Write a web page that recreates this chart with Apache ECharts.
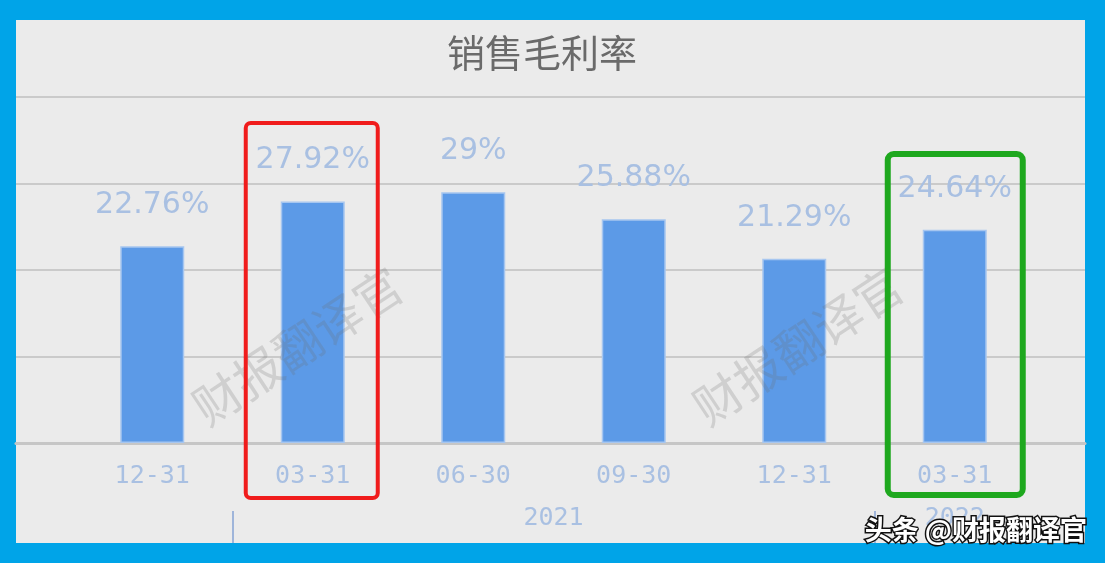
<!DOCTYPE html>
<html>
<head>
<meta charset="utf-8">
<script src="https://cdn.jsdelivr.net/npm/echarts@6/dist/echarts.min.js"></script>
<style>
html,body{margin:0;padding:0;background:#00a4e8;}
#c{width:1105px;height:563px;}
</style>
</head>
<body>
<div id="c"></div>
<script>
const titleText = '销售毛利率';
const categories = ['12-31', '03-31', '06-30', '09-30', '12-31', '03-31'];
const margins = [22.76, 27.92, 29, 25.88, 21.29, 24.64];
const yearGroups = [
  { name: '2021', from: 1, to: 5 },
  { name: '2022', from: 5, to: 6 }
];
const watermark = '财报翻译官';
const credit = '头条 @财报翻译官';

const labelColor = '#a9c0e2';
const chart = echarts.init(document.getElementById('c'), null, { renderer: 'canvas' });

const option = {
  backgroundColor: '#00a4e8',
  animation: false,
  title: {
    text: titleText,
    left: 442,
    top: 29,
    textStyle: { fontFamily: 'Noto Sans CJK SC', fontSize: 38, fontWeight: 'normal', color: '#6a6a6a' }
  },
  grid: [
    { left: 72, right: 70, top: 97, bottom: 120 },
    { left: 16, right: 20, top: 97, bottom: 120 }
  ],
  xAxis: [
    {
      type: 'category', gridIndex: 0, data: categories,
      axisLine: { show: false }, axisTick: { show: false },
      axisLabel: { margin: 21, color: labelColor, fontFamily: 'DejaVu Sans Mono', fontSize: 25 }
    },
    {
      type: 'value', gridIndex: 0, min: 0, max: categories.length, position: 'bottom', offset: 100,
      axisLine: { show: false }, splitLine: { show: false },
      axisTick: {
        show: true, inside: true, length: 32,
        customValues: yearGroups.map(g => g.from).filter(v => v > 0),
        lineStyle: { color: '#9fb5da', width: 2 }
      },
      axisLabel: {
        inside: true, margin: 12, color: labelColor, fontFamily: 'DejaVu Sans Mono', fontSize: 25,
        customValues: yearGroups.map(g => (g.from + g.to) / 2),
        formatter: v => { const g = yearGroups.find(g => (g.from + g.to) / 2 === v); return g ? g.name : ''; }
      }
    },
    {
      type: 'value', gridIndex: 1, min: 0, max: 1,
      axisLine: { show: true, lineStyle: { color: '#c6c6c6', width: 3 } },
      axisTick: { show: false }, axisLabel: { show: false }, splitLine: { show: false }
    }
  ],
  yAxis: [
    {
      type: 'value', gridIndex: 0, min: 0, max: 40, interval: 10,
      axisLine: { show: false }, axisTick: { show: false }, axisLabel: { show: false }, splitLine: { show: false }
    },
    {
      type: 'value', gridIndex: 1, min: 0, max: 40, interval: 10,
      axisLine: { show: false }, axisTick: { show: false }, axisLabel: { show: false },
      splitLine: { show: true, lineStyle: { color: '#cacaca', width: 2 } }
    }
  ],
  series: [
    {
      type: 'bar', xAxisIndex: 0, yAxisIndex: 0, data: margins, barWidth: 64,
      itemStyle: { color: '#5c9ae7', borderColor: '#a6c6f0', borderWidth: 1.5 },
      label: {
        show: true, position: 'top', distance: 26,
        formatter: p => p.value + '%',
        color: labelColor, fontFamily: 'DejaVu Sans', fontSize: 30
      }
    }
  ],
  graphic: [
    { type: 'rect', z: -100, silent: true, shape: { x: 16, y: 20, width: 1069, height: 523 }, style: { fill: '#ebebeb' } }
  ]
};
chart.setOption(option);

// annotations placed relative to the highlighted categories
const cx1 = chart.convertToPixel({ xAxisIndex: 0 }, 1);
const cx5 = chart.convertToPixel({ xAxisIndex: 0 }, 5);
const wm1 = (chart.convertToPixel({ xAxisIndex: 0 }, 0) + chart.convertToPixel({ xAxisIndex: 0 }, 2)) / 2 - 15;
const wm2 = (chart.convertToPixel({ xAxisIndex: 0 }, 3) + chart.convertToPixel({ xAxisIndex: 0 }, 5)) / 2 + 4;
chart.setOption({
  graphic: [
    { type: 'rect', z: -100, silent: true, shape: { x: 16, y: 20, width: 1069, height: 523 }, style: { fill: '#ebebeb' } },
    {
      type: 'text', z: 50, x: wm1, y: 346, rotation: 33.5 * Math.PI / 180,
      style: { text: watermark, fontFamily: 'Noto Sans CJK SC', fontSize: 48, fill: 'rgba(110,110,110,0.22)', align: 'center', verticalAlign: 'middle' }
    },
    {
      type: 'text', z: 50, x: wm2, y: 346, rotation: 33.5 * Math.PI / 180,
      style: { text: watermark, fontFamily: 'Noto Sans CJK SC', fontSize: 48, fill: 'rgba(110,110,110,0.22)', align: 'center', verticalAlign: 'middle' }
    },
    {
      type: 'rect', z: 60, shape: { x: cx1 - 67, y: 123, width: 132, height: 375, r: 5 },
      style: { fill: 'none', stroke: '#f01c1c', lineWidth: 4 }
    },
    {
      type: 'rect', z: 60, shape: { x: cx5 - 67, y: 154, width: 135, height: 341, r: 6 },
      style: { fill: 'none', stroke: '#1ea81e', lineWidth: 6 }
    },
    {
      type: 'text', z: 70, x: 1087, y: 530,
      style: {
        text: credit, fontFamily: 'Noto Sans CJK SC', fontSize: 27, fontWeight: 'bold', fill: '#ffffff',
        stroke: '#111111', lineWidth: 3, strokeFirst: true, align: 'right', verticalAlign: 'middle',
        shadowColor: 'rgba(0,0,0,0.6)', shadowBlur: 1, shadowOffsetX: 1, shadowOffsetY: 1
      }
    }
  ]
});
</script>
</body>
</html>
